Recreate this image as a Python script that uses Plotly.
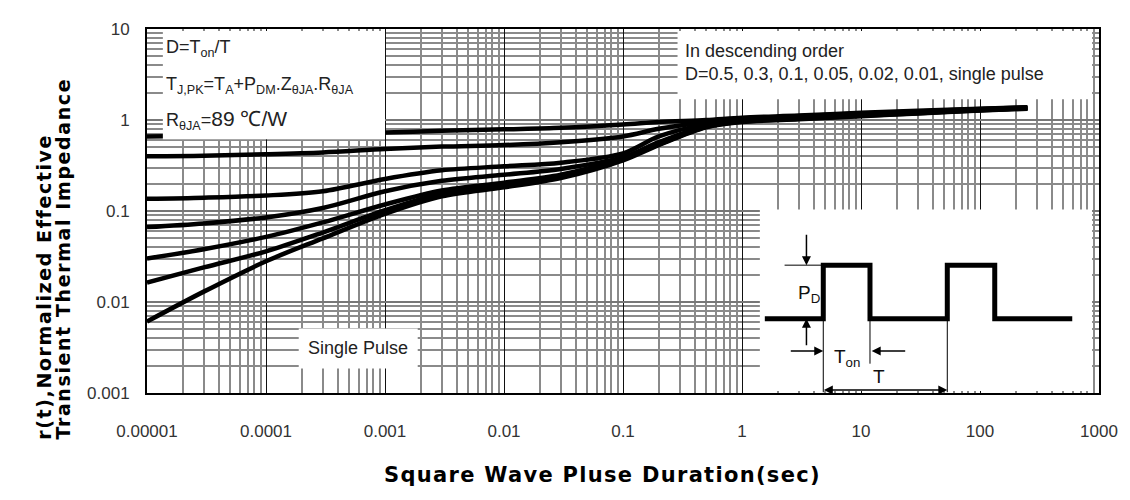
import math
import plotly.graph_objects as go

# ---------------- data ----------------
pulse_duration = [1e-5, 3e-5, 1e-4, 3e-4, 1e-3, 3e-3, 1e-2, 3e-2, 0.1, 0.2, 0.5, 1, 3, 10, 30, 100, 250]

duty_labels = ["D=0.5", "D=0.3", "D=0.1", "D=0.05", "D=0.02", "D=0.01", "Single pulse"]
r_d05 = [0.66, 0.67, 0.68, 0.70, 0.73, 0.76, 0.79, 0.82, 0.89, 0.95, 1.00, 1.06, 1.12, 1.20, 1.26, 1.33, 1.38]
r_d03 = [0.40, 0.405, 0.42, 0.44, 0.48, 0.51, 0.53, 0.57, 0.66, 0.80, 0.95, 1.04, 1.10, 1.18, 1.24, 1.32, 1.37]
r_d01 = [0.136, 0.14, 0.148, 0.165, 0.225, 0.28, 0.31, 0.34, 0.43, 0.66, 0.90, 1.01, 1.08, 1.16, 1.23, 1.31, 1.36]
r_d005 = [0.0665, 0.073, 0.085, 0.108, 0.165, 0.215, 0.25, 0.29, 0.39, 0.57, 0.86, 0.99, 1.06, 1.14, 1.21, 1.30, 1.35]
r_d002 = [0.030, 0.038, 0.052, 0.075, 0.118, 0.168, 0.205, 0.25, 0.38, 0.555, 0.85, 0.975, 1.05, 1.13, 1.20, 1.29, 1.35]
r_d001 = [0.0163, 0.024, 0.036, 0.058, 0.102, 0.155, 0.192, 0.24, 0.37, 0.54, 0.84, 0.965, 1.035, 1.115, 1.19, 1.28, 1.34]
r_single = [0.0061, 0.013, 0.028, 0.050, 0.093, 0.145, 0.182, 0.23, 0.36, 0.53, 0.83, 0.95, 1.02, 1.10, 1.18, 1.27, 1.33]
series = [r_d05, r_d03, r_d01, r_d005, r_d002, r_d001, r_single]

x_tickvals = [1e-5, 1e-4, 1e-3, 1e-2, 1e-1, 1, 10, 100, 1000]
x_ticktext = ["0.00001", "0.0001", "0.001", "0.01", "0.1", "1", "10", "100", "1000"]
y_tickvals = [0.001, 0.01, 0.1, 1, 10]
y_ticktext = ["0.001", "0.01", "0.1", "1", "10"]

# inset square-wave diagram, in chart coordinates (time, r(t))
wave_t = [1.555, 4.82, 4.82, 11.9, 11.9, 53.1, 53.1, 133, 133, 596]
wave_r = [0.00653, 0.00653, 0.0254, 0.0254, 0.00653, 0.00653, 0.0254, 0.0254, 0.00653, 0.00653]

# ---------------- figure ----------------
fig = go.Figure()
for name, ys in zip(duty_labels, series):
    fig.add_trace(go.Scatter(x=pulse_duration, y=ys, name=name, mode="lines",
                             line=dict(color="black", width=4.5, shape="spline", smoothing=0.9),
                             showlegend=False, hoverinfo="skip"))

def minor_vals(lo, hi):
    return [k * 10 ** e for e in range(lo, hi) for k in range(2, 10)]

# page offset of 8 px (body margin) is compensated in the margins
W, H = 1122, 492
L, R, T, B = 139, 23, 12, 107
X0, Y1 = 147, 393          # plot-area left / bottom in page pixels
pw, ph = 960, 373

def px(xp):
    return (xp - X0) / pw

def py(yp):
    return (Y1 - yp) / ph

tick_font = dict(family="Liberation Sans, Arial", size=17, color="#333333")
fig.update_xaxes(type="log", range=[-5, 3], tickvals=x_tickvals, ticktext=x_ticktext,
                 showgrid=True, gridcolor="#111111", gridwidth=1,
                 minor=dict(tickvals=minor_vals(-5, 3), showgrid=True, gridcolor="#8a8a8a", gridwidth=2, ticks=""),
                 showline=True, linecolor="black", linewidth=2, mirror=True,
                 ticks="outside", ticklen=22, tickcolor="rgba(0,0,0,0)",
                 tickfont=tick_font, zeroline=False)
fig.update_yaxes(type="log", range=[-3, 1], tickvals=y_tickvals, ticktext=y_ticktext,
                 showgrid=True, gridcolor="#777777", gridwidth=2,
                 minor=dict(tickvals=minor_vals(-3, 1), showgrid=True, gridcolor="#8a8a8a", gridwidth=2, ticks=""),
                 showline=True, linecolor="black", linewidth=2, mirror=True,
                 ticks="outside", ticklen=12, tickcolor="rgba(0,0,0,0)",
                 tickfont=tick_font, zeroline=False)

shapes = []
# white label boxes (cover grid and curves)
for (x0, x1, y0, y1) in [(163, 387, 22, 133), (682, 1100, 22, 92), (765, 1100, 205, 391), (300, 420, 327, 368)]:
    shapes.append(dict(type="rect", xref="paper", yref="paper", x0=px(x0), x1=px(x1), y0=py(y1), y1=py(y0),
                       fillcolor="white", line=dict(width=0), layer="above"))
# square wave
path = "M " + " L ".join(f"{t},{r}" for t, r in zip(wave_t, wave_r))
shapes.append(dict(type="path", xref="x", yref="y", path=path, line=dict(color="black", width=5), layer="above"))
# thin reference lines of the diagram
thin = dict(color="black", width=1)
shapes.append(dict(type="line", xref="x", yref="y", x0=2.28, x1=wave_t[1], y0=wave_r[2], y1=wave_r[2], line=thin, layer="above"))
shapes.append(dict(type="line", xref="x", yref="y", x0=wave_t[1], x1=wave_t[1], y0=wave_r[2], y1=0.00102, line=thin, layer="above"))
shapes.append(dict(type="line", xref="x", yref="y", x0=wave_t[3], x1=wave_t[3], y0=wave_r[2], y1=0.0021, line=thin, layer="above"))
shapes.append(dict(type="line", xref="x", yref="y", x0=wave_t[5], x1=wave_t[5], y0=wave_r[6], y1=0.00102, line=thin, layer="above"))
fig.update_layout(shapes=shapes)

lg = math.log10
ann = []
box_font = dict(family="Liberation Sans, Arial", size=18, color="#222222")
ann.append(dict(xref="paper", yref="paper", x=px(164), y=py(40), xanchor="left", yanchor="middle",
                text="D=T<sub>on</sub>/T", showarrow=False, font=box_font))
ann.append(dict(xref="paper", yref="paper", x=px(164), y=py(78), xanchor="left", yanchor="middle",
                text="T<sub>J,PK</sub>=T<sub>A</sub>+P<sub>DM</sub>.Z<sub>θJA</sub>.R<sub>θJA</sub>",
                showarrow=False, font=box_font))
ann.append(dict(xref="paper", yref="paper", x=px(164), y=py(113), xanchor="left", yanchor="middle",
                text="R<sub>θJA</sub>=<span style='font-size:21px'>89 ℃/W</span>", showarrow=False, font=box_font))
ann.append(dict(xref="paper", yref="paper", x=px(687), y=py(43), xanchor="left", yanchor="middle",
                text="In descending order", showarrow=False, font=box_font))
ann.append(dict(xref="paper", yref="paper", x=px(687), y=py(66), xanchor="left", yanchor="middle",
                text="D=0.5, 0.3, 0.1, 0.05, 0.02, 0.01, single pulse", showarrow=False, font=box_font))
ann.append(dict(xref="paper", yref="paper", x=px(360), y=py(347), xanchor="center", yanchor="middle",
                text="Single Pulse", showarrow=False, font=box_font))
# diagram labels
dfont = dict(family="Liberation Sans, Arial", size=19, color="#111111")
ann.append(dict(xref="paper", yref="paper", x=px(815), y=py(292), xanchor="center", yanchor="middle",
                text="P<sub>D</sub>", showarrow=False, font=dfont))
ann.append(dict(xref="paper", yref="paper", x=px(853), y=py(357), xanchor="center", yanchor="middle",
                text="T<sub>on</sub>", showarrow=False, font=dfont))
ann.append(dict(xref="paper", yref="paper", x=px(885), y=py(376), xanchor="center", yanchor="middle",
                text="T", showarrow=False, font=dfont))
# diagram arrows
arr = dict(showarrow=True, arrowhead=2, arrowsize=1.2, arrowwidth=1.5, arrowcolor="black", text="",
           axref="pixel", ayref="pixel")
ann.append(dict(arr, xref="x", yref="y", x=lg(3.48), y=lg(wave_r[2]), ax=0, ay=-32))
ann.append(dict(arr, xref="x", yref="y", x=lg(3.48), y=lg(wave_r[0]), ax=0, ay=28))
ann.append(dict(arr, xref="x", yref="y", x=lg(wave_t[1]), y=lg(0.00289), ax=-34, ay=0))
ann.append(dict(arr, xref="x", yref="y", x=lg(12.3), y=lg(0.00289), ax=35, ay=0))
ann.append(dict(arr, xref="x", yref="y", x=lg(wave_t[5]), y=lg(0.00108), ax=-125, ay=0, arrowside="end+start"))
# axis titles
title_font = dict(family="DejaVu Sans", size=21, color="black")
ann.append(dict(xref="paper", yref="paper", x=px(606), y=py(477), xanchor="center", yanchor="middle",
                text="<b><span style='letter-spacing:1.3px'>Square Wave Pluse Duration(sec)</span></b>",
                showarrow=False, font=title_font))
yt_font = dict(family="DejaVu Sans", size=19, color="black")
ann.append(dict(xref="paper", yref="paper", x=px(43), y=py(443), xanchor="center", yanchor="bottom", textangle=-90,
                text="<b><span style='letter-spacing:1.6px'>r(t),Normalized Effective</span></b>",
                showarrow=False, font=yt_font))
ann.append(dict(xref="paper", yref="paper", x=px(62), y=py(443), xanchor="center", yanchor="bottom", textangle=-90,
                text="<b><span style='letter-spacing:1.6px'>Transient Thermal Impedance</span></b>",
                showarrow=False, font=yt_font))
fig.update_layout(annotations=ann)

fig.update_layout(width=W, height=H, margin=dict(l=L, r=R, t=T, b=B, pad=0),
                  paper_bgcolor="white", plot_bgcolor="white", showlegend=False)

fig.write_html("out.html")
